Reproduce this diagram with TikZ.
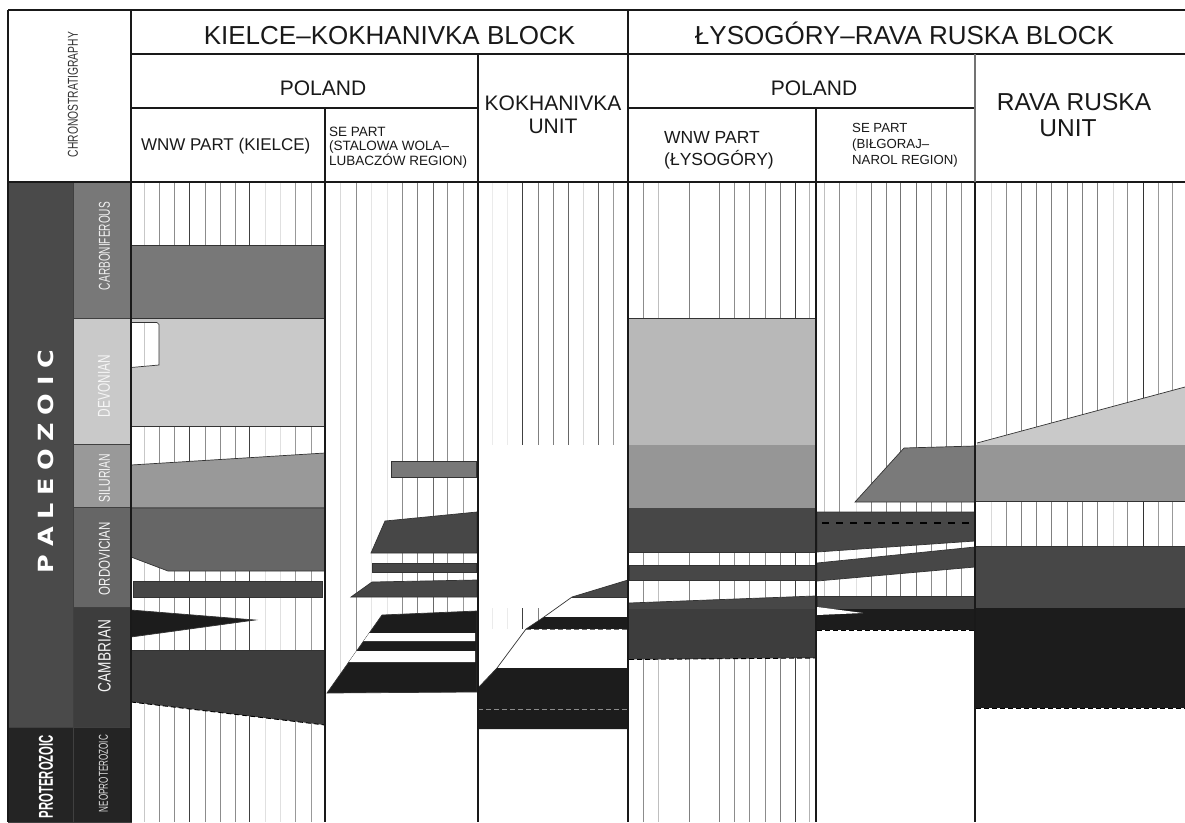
\documentclass[tikz,border=0pt]{standalone}
\usepackage{fontspec}
\setmainfont{Liberation Sans}
\newfontfamily\heavy{DejaVu Sans}
\usepackage{graphicx}
\definecolor{carb}{gray}{0.47}
\definecolor{devl}{gray}{0.79}
\definecolor{devlb}{gray}{0.72}
\definecolor{silu}{gray}{0.60}
\definecolor{silub}{gray}{0.48}
\definecolor{ordo}{gray}{0.40}
\definecolor{dk}{gray}{0.28}
\definecolor{camb}{gray}{0.24}
\definecolor{blk}{gray}{0.11}
\definecolor{era}{gray}{0.29}
\definecolor{prot}{gray}{0.14}
\definecolor{ink}{gray}{0.10}
\newcommand\hlines[3]{\foreach \xx/\cc in #1 {\draw[black!\cc,line width=0.9pt] (\xx,#2) -- (\xx,#3);}}
\newcommand\KL{144/22,159/45,174/45,189/75,205/45,220/45,235/45,249/75,265/12,280/12,295/40,311/40}
\newcommand\SL{340/15,356/45,371/10,387/10,402/45,417/50,433/60,447/45,463/40}
\newcommand\OL{492/8,507/8,522/75,538/50,553/50,568/60,583/15,598/60,613/40}
\newcommand\OLs{492/8,507/8,522/75,538/50}
\newcommand\LL{643/45,658/25,689/50,719/50,734/45,749/45,765/45,780/50,795/75,809/30}
\newcommand\BL{824/25,839/45,856/12,871/50,886/50,900/55,916/55,931/45,946/50,961/45}
\newcommand\RL{991/15,1006/45,1021/50,1036/50,1051/50,1067/50,1082/50,1097/50,1113/15,1127/45,1143/80,1158/40,1172/40}
\begin{document}
\begin{tikzpicture}[x=1pt,y=-1pt,line join=miter,
  band/.style={draw=black!80,line width=0.7pt},
  dashln/.style={dash pattern=on 5pt off 3pt,line width=0.9pt},
  framel/.style={line width=2pt,draw=ink},
  midl/.style={line width=1.4pt,draw=ink},
  cell/.style={draw=black!75,line width=0.8pt},
  vlab/.style={rotate=90,inner sep=0pt},
  hlab/.style={anchor=base,inner sep=0pt,text=ink}]
\useasboundingbox (0,0) rectangle (1185,822);
\fill[white] (0,0) rectangle (1185,822);

% ---------- hatch backgrounds ----------
\hlines{\KL}{182}{822}
\hlines{\SL}{182}{692}
\hlines{\OL}{182}{445}
\hlines{\OLs}{608}{629}
\hlines{\LL}{182}{822}
\hlines{\BL}{182}{609}
\hlines{\RL}{182}{546}

% ---------- WNW part (Kielce) ----------
\filldraw[band,fill=carb] (131,245) rectangle (325,318);
\filldraw[band,fill=devl] (131,318) rectangle (325,426);
\fill[white] (131,322.5) -- (157,322.5) -- (159,324.5) -- (159,365) -- (131,367.5) -- cycle;
\draw[black!22,line width=0.9pt] (144,323) -- (144,366);
\draw[band] (131,322.5) -- (157,322.5) -- (159,324.5) -- (159,365) -- (131,367.5);
\filldraw[band,fill=silu] (131,465) -- (325,453) -- (325,508) -- (131,508) -- cycle;
\filldraw[band,fill=ordo] (131,508) -- (325,508) -- (325,571) -- (168,571) -- (131,557) -- cycle;
\filldraw[band,fill=dk] (133,581) rectangle (322,597);
\filldraw[band,fill=blk] (131,610) -- (255,620) -- (131,637) -- cycle;
\fill[camb] (131,650) -- (325,650) -- (325,725) -- (131,702) -- cycle;
\draw[band] (131,650) -- (325,650);
\draw[dashln] (131,702) -- (325,725);

% ---------- SE part (Stalowa Wola) ----------
\filldraw[band,fill=carb] (391,461) rectangle (476,477);
\filldraw[band,fill=dk] (385,521) -- (477,512) -- (477,553) -- (371,553) -- cycle;
\filldraw[band,fill=dk] (372,563) rectangle (476,572);
\filldraw[band,fill=dk] (351,597) -- (372,582) -- (477,580) -- (477,597) -- cycle;
\filldraw[band,fill=blk] (382,615) -- (477,611) -- (477,692) -- (327,693) -- cycle;
\fill[white] (369.3,633) -- (475,633) -- (475,641) -- (363.7,641) -- cycle;
\fill[white] (356.6,651) -- (475,651) -- (475,662) -- (348.9,662) -- cycle;

% ---------- Kokhanivka unit ----------
\fill[dk] (572,597) -- (628,580) -- (628,597) -- cycle;
\fill[white] (572,597) -- (628,597) -- (628,617) -- (544,617) -- cycle;
\fill[blk] (544,617) -- (628,617) -- (628,629) -- (526,629) -- cycle;
\fill[white] (526,629) -- (628,629) -- (628,668) -- (497,668) -- cycle;
\fill[blk] (478,688) -- (497,668) -- (628,668) -- (628,729) -- (478,729) -- cycle;
\draw[band] (478,688) -- (497,668) -- (526,629) -- (544,617) -- (572,597) -- (628,580);
\draw[band] (572,597) -- (628,597);
\draw[dashln,draw=black!60] (526,629) -- (628,629);
\draw[dashln,draw=black!45] (478,709) -- (628,709);

% ---------- WNW part (Lysogory) ----------
\fill[devlb] (629,318) rectangle (815,445);
\draw[band] (629,318) -- (815,318);
\fill[black!41] (629,445) rectangle (815,508);
\fill[black!72] (629,508) rectangle (815,552);
\draw[band] (629,552) -- (815,552);
\filldraw[band,fill=dk] (629,565) rectangle (815,580);
\fill[black!72] (629,603) -- (815,596) -- (815,609) -- (629,609) -- cycle;
\draw[band] (629,603) -- (815,596);
\fill[camb] (629,609) -- (815,609) -- (815,658) -- (629,659.5) -- cycle;
\draw[dashln] (629,659.5) -- (815,658);

% ---------- SE part (Bilgoraj) ----------
\filldraw[band,fill=silub] (855,502) -- (904,448) -- (975,446) -- (975,502) -- cycle;
\filldraw[band,fill=dk] (817,512) -- (975,512) -- (975,541) -- (817,552) -- cycle;
\draw[dash pattern=on 7pt off 7pt,line width=1.3pt,black] (822,523) -- (975,523);
\filldraw[band,fill=dk] (817,563) -- (975,547) -- (975,567) -- (817,581) -- cycle;
\filldraw[band,fill=dk] (817,596) rectangle (975,609);
\fill[blk] (817,609) rectangle (975,630);
\fill[white] (817,607) -- (863,613) -- (817,615) -- cycle;
\draw[dashln] (817,630) -- (975,630);

% ---------- Rava Ruska unit ----------
\fill[devl] (977,443) -- (1185,387) -- (1185,445) -- (977,445) -- cycle;
\draw[band] (977,443) -- (1185,387);
\fill[black!41] (976,445) rectangle (1185,501);
\draw[band] (976,501) -- (1185,501);
\fill[black!72] (976,546) rectangle (1185,608);
\draw[band] (976,546) -- (1185,546);
\fill[blk] (976,608) rectangle (1185,708);
\draw[dashln] (976,708) -- (1185,708);

% ---------- chronostratigraphy column ----------
\filldraw[cell,fill=era] (8,182) rectangle (73,727);
\filldraw[cell,fill=prot] (8,727) rectangle (73,822);
\filldraw[cell,fill=carb] (73,182) rectangle (131,318);
\filldraw[cell,fill=devl] (73,318) rectangle (131,444);
\filldraw[cell,fill=silu] (73,444) rectangle (131,507);
\filldraw[cell,fill=ordo] (73,507) rectangle (131,607);
\filldraw[cell,fill=camb] (73,607) rectangle (131,727);
\filldraw[cell,fill=prot] (73,727) rectangle (131,822);

% ---------- frame ----------
\draw[framel] (8,10) -- (1185,10);
\draw[framel] (8,10) -- (8,822);
\draw[framel] (131,10) -- (131,822);
\draw[midl] (131,54) -- (1185,54);
\draw[midl] (131,108) -- (478,108);
\draw[midl] (628,108) -- (975,108);
\draw[framel] (8,182) -- (1185,182);
\draw[framel] (325,108) -- (325,822);
\draw[midl] (478,54) -- (478,822);
\draw[midl] (628,10) -- (628,822);
\draw[midl] (816,108) -- (816,822);
\draw[line width=1.2pt,draw=black!55] (975,54) -- (975,182);
\draw[framel] (975,182) -- (975,822);

% ---------- header texts ----------
\node[hlab,font=\fontsize{26}{28}\selectfont] (kkb) at (389.5,44.3) {KIELCE–KOKHANIVKA BLOCK};
\node[hlab,font=\fontsize{26}{28}\selectfont] (lrb) at (904.5,44.3) {ŁYSOGÓRY–RAVA RUSKA BLOCK};
\node[hlab,font=\fontsize{21}{23}\selectfont] (pl1) at (323,95) {POLAND};
\node[hlab,font=\fontsize{21}{23}\selectfont] (pl2) at (814,95) {POLAND};
\node[hlab,font=\fontsize{21}{23}\selectfont] (kk1) at (553,110) {KOKHANIVKA};
\node[hlab,font=\fontsize{21}{23}\selectfont] (kk2) at (553,133.3) {UNIT};
\node[hlab,font=\fontsize{24.5}{26}\selectfont] (rr1) at (1074,110) {RAVA RUSKA};
\node[hlab,font=\fontsize{24.5}{26}\selectfont] (rr2) at (1068,136.7) {UNIT};
\node[hlab,font=\fontsize{17}{19}\selectfont] (wk) at (225.7,150) {WNW PART (KIELCE)};
\node[hlab,anchor=base west,font=\fontsize{17.5}{19}\selectfont] (wl1) at (664,143.3) {WNW PART};
\node[hlab,anchor=base west,font=\fontsize{17.5}{19}\selectfont] (wl2) at (664,165.5) {(ŁYSOGÓRY)};
\node[hlab,anchor=base west,font=\fontsize{13.5}{15}\selectfont] (ss1) at (329,136) {SE PART};
\node[hlab,anchor=base west,font=\fontsize{13.5}{15}\selectfont] (ss2) at (329,150.5) {(STALOWA WOLA–};
\node[hlab,anchor=base west,font=\fontsize{13.5}{15}\selectfont] (ss3) at (329,165.5) {LUBACZÓW REGION)};
\node[hlab,anchor=base west,font=\fontsize{13.2}{15}\selectfont] (sb1) at (852,132.7) {SE PART};
\node[hlab,anchor=base west,font=\fontsize{13.2}{15}\selectfont] (sb2) at (852,148) {(BIŁGORAJ–};
\node[hlab,anchor=base west,font=\fontsize{13.2}{15}\selectfont] (sb3) at (852,164) {NAROL REGION)};

% ---------- rotated labels ----------
\node[vlab,text=black!80] (chr) at (73,94.5) {\resizebox{125pt}{10pt}{CHRONOSTRATIGRAPHY}};
\node[vlab,text=white] (pal) at (45.5,461.5) {\resizebox{223pt}{15.5pt}{\heavy\bfseries P\kern0.3em A\kern0.3em L\kern0.3em E\kern0.3em O\kern0.3em Z\kern0.3em O\kern0.3em I\kern0.3em C}};
\node[vlab,text=white] (pro) at (46,776.5) {\resizebox{83pt}{14pt}{\bfseries PROTEROZOIC}};
\node[vlab,text=black!6] (car) at (104.5,246) {\resizebox{88pt}{11pt}{CARBONIFEROUS}};
\node[vlab,text=black!4] (dev) at (104,386) {\resizebox{62pt}{12pt}{DEVONIAN}};
\node[vlab,text=black!4] (sil) at (104.5,478) {\resizebox{48pt}{11pt}{SILURIAN}};
\node[vlab,text=black!4] (ord) at (104.5,558.5) {\resizebox{73pt}{11pt}{ORDOVICIAN}};
\node[vlab,text=black!4] (cam) at (104.5,656) {\resizebox{72pt}{12.5pt}{CAMBRIAN}};
\node[vlab,text=black!12] (neo) at (103.5,773.5) {\resizebox{77pt}{9pt}{NEOPROTEROZOIC}};
\end{tikzpicture}
\end{document}
